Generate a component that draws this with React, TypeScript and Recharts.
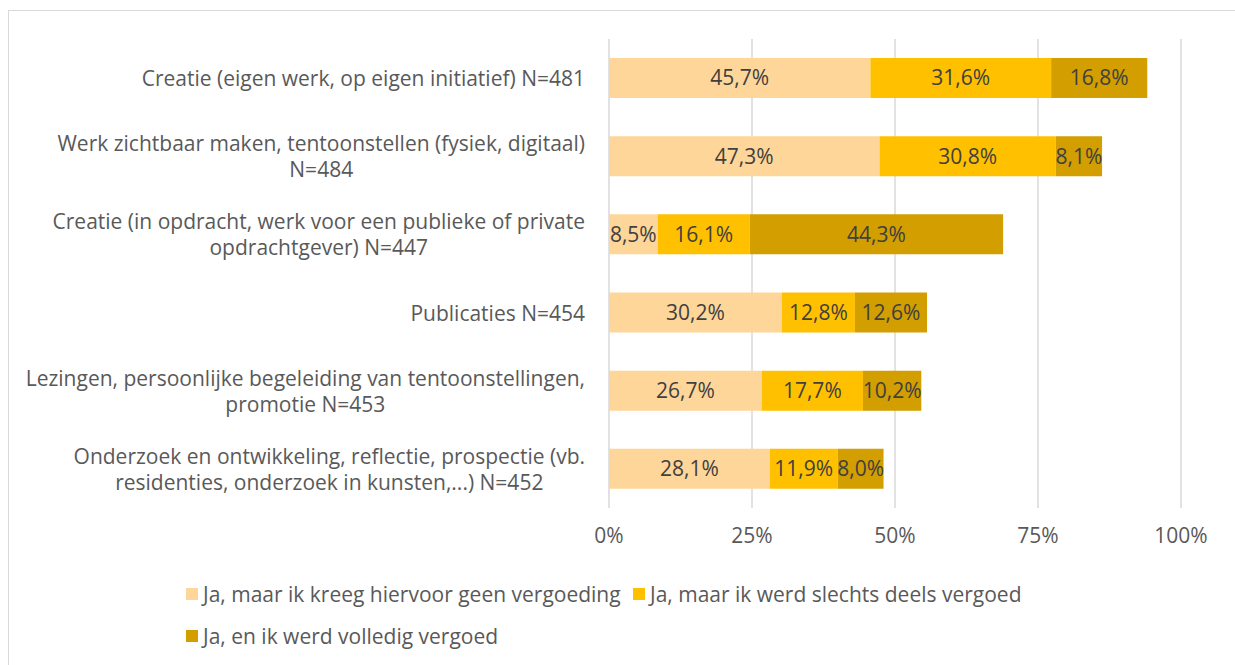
import React from "react";
import { BarChart, Bar, XAxis, YAxis, CartesianGrid, LabelList } from "recharts";

const categoryLines: string[][] = [
  ["Creatie (eigen werk, op eigen initiatief) N=481"],
  ["Werk zichtbaar maken, tentoonstellen (fysiek, digitaal)", "N=484"],
  ["Creatie (in opdracht, werk voor een publieke of private", "opdrachtgever) N=447"],
  ["Publicaties N=454"],
  ["Lezingen, persoonlijke begeleiding van tentoonstellingen,", "promotie N=453"],
  ["Onderzoek en ontwikkeling, reflectie, prospectie (vb.", "residenties, onderzoek in kunsten,...) N=452"],
];
const categories = categoryLines.map((l) => l.join(" "));
const geenVergoeding = [45.7, 47.3, 8.5, 30.2, 26.7, 28.1];
const deelsVergoed = [31.6, 30.8, 16.1, 12.8, 17.7, 11.9];
const volledigVergoed = [16.8, 8.1, 44.3, 12.6, 10.2, 8.0];
const seriesNames = [
  "Ja, maar ik kreeg hiervoor geen vergoeding",
  "Ja, maar ik werd slechts deels vergoed",
  "Ja, en ik werd volledig vergoed",
];
const seriesColors = ["#FFD699", "#FFC000", "#D29E00"];
const xTicks = [0, 25, 50, 75, 100];

const data = categories.map((c, i) => ({
  name: c,
  a: geenVergoeding[i],
  b: deelsVergoed[i],
  c: volledigVergoed[i],
}));

const FONT = '"Open Sans", sans-serif';
const FS = 21;

let canvasCtx: CanvasRenderingContext2D | null = null;
function measure(t: string): number {
  if (!canvasCtx) {
    const c = document.createElement("canvas");
    canvasCtx = c.getContext("2d");
  }
  if (!canvasCtx) return t.length * FS * 0.5;
  canvasCtx.font = `${FS}px "Open Sans"`;
  return canvasCtx.measureText(t).width;
}

const fmt = (v: any) => Number(v).toFixed(1).replace(".", ",") + "%";

const YTick = (props: any) => {
  const { y, payload } = props;
  const idx = categories.indexOf(payload.value);
  const lines = idx >= 0 ? categoryLines[idx] : [String(payload.value)];
  const right = 585;
  const maxW = Math.max(...lines.map(measure));
  const cx = right - maxW / 2;
  const lh = 26;
  const startY = y - ((lines.length - 1) * lh) / 2;
  return (
    <g>
      {lines.map((l, i) => (
        <text
          key={i}
          x={cx}
          y={startY + i * lh}
          textAnchor="middle"
          dominantBaseline="central"
          fill="#595959"
          fontSize={FS}
          fontFamily={FONT}
        >
          {l}
        </text>
      ))}
    </g>
  );
};

const Legend = () => {
  const item = (i: number, left: number, top: number) => (
    <div
      key={i}
      style={{
        position: "absolute",
        left,
        top,
        display: "flex",
        alignItems: "center",
        fontFamily: FONT,
        fontSize: FS,
        color: "#595959",
        whiteSpace: "nowrap",
      }}
    >
      <span style={{ display: "inline-block", width: 12, height: 12, background: seriesColors[i], marginRight: 5 }} />
      <span>{seriesNames[i]}</span>
    </div>
  );
  return (
    <>
      {item(0, 186, 580)}
      {item(1, 633, 580)}
      {item(2, 186, 622)}
    </>
  );
};

export default function App() {
  return (
    <div style={{ position: "absolute", left: 0, top: 0, width: 1235, height: 665, background: "#fff", overflow: "hidden" }}>
      <div style={{ position: "absolute", left: 8, top: 10, width: 1240, height: 670, border: "1px solid #d9d9d9", boxSizing: "border-box" }} />
      <BarChart
        width={1235}
        height={665}
        data={data}
        layout="vertical"
        margin={{ top: 39, right: 54, left: 0, bottom: 117 }}
        barSize={40}
        style={{ position: "absolute", left: 0, top: 0 }}
      >
        <CartesianGrid horizontal={false} vertical={true} stroke="#d9d9d9" strokeWidth={1.5} />
        <XAxis
          type="number"
          domain={[0, 100]}
          ticks={xTicks}
          tickFormatter={(v) => `${v}%`}
          axisLine={false}
          tickLine={false}
          tick={{ fill: "#595959", fontSize: FS, fontFamily: FONT }}
          tickMargin={14}
          height={40}
        />
        <YAxis
          type="category"
          dataKey="name"
          width={609}
          axisLine={false}
          tickLine={false}
          tick={<YTick />}
          interval={0}
        />
        <Bar dataKey="a" stackId="s" fill={seriesColors[0]} isAnimationActive={false}>
          <LabelList dataKey="a" position="center" formatter={fmt} fill="#404040" fontSize={FS} fontFamily={FONT} />
        </Bar>
        <Bar dataKey="b" stackId="s" fill={seriesColors[1]} isAnimationActive={false}>
          <LabelList dataKey="b" position="center" formatter={fmt} fill="#404040" fontSize={FS} fontFamily={FONT} />
        </Bar>
        <Bar dataKey="c" stackId="s" fill={seriesColors[2]} isAnimationActive={false}>
          <LabelList dataKey="c" position="center" formatter={fmt} fill="#404040" fontSize={FS} fontFamily={FONT} />
        </Bar>
      </BarChart>
      <Legend />
    </div>
  );
}
